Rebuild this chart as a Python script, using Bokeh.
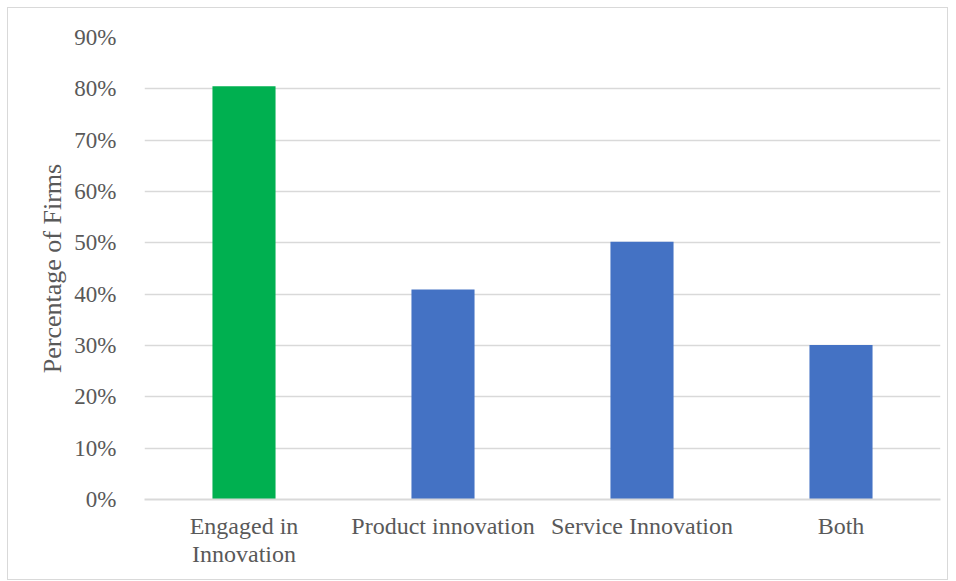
from bokeh.plotting import figure
from bokeh.models import NumeralTickFormatter, FactorRange, ColumnDataSource
from bokeh.embed import file_html
from bokeh.resources import INLINE

categories = ["Engaged in\nInnovation", "Product innovation", "Service Innovation", "Both"]
values = [0.805, 0.409, 0.502, 0.301]
colors = ["#00B050", "#4472C4", "#4472C4", "#4472C4"]
y_ticks = [0.0, 0.1, 0.2, 0.3, 0.4, 0.5, 0.6, 0.7, 0.8, 0.9]

FONT = "Liberation Serif"
TXT = "#595959"

p = figure(width=941, height=573, x_range=FactorRange(*categories), y_range=(0, 0.9),
           output_backend="svg", toolbar_location=None)
p.styles = {"border": "1px solid #d9d9d9", "box-sizing": "border-box",
            "margin-left": "7px", "margin-top": "7px"}
p.min_border_left = 136
p.min_border_right = 9
p.min_border_top = 29
p.min_border_bottom = 82
p.outline_line_color = None

src = ColumnDataSource(dict(cat=categories, val=values, color=colors))
p.vbar(x="cat", top="val", width=0.317, color="color", source=src, line_color=None)

p.yaxis.ticker = y_ticks
p.yaxis.formatter = NumeralTickFormatter(format="0%")
p.yaxis.axis_label = "Percentage of Firms"
p.yaxis.axis_label_text_font = FONT
p.yaxis.axis_label_text_font_style = "normal"
p.yaxis.axis_label_text_font_size = "26px"
p.yaxis.axis_label_text_color = TXT
p.yaxis.axis_label_standoff = 4
p.yaxis.axis_line_color = None
p.yaxis.major_tick_line_color = None
p.yaxis.minor_tick_line_color = None
p.yaxis.major_label_standoff = 22
p.yaxis.major_label_text_font_size = "23px"

p.xaxis.axis_line_color = "#d9d9d9"
p.xaxis.axis_line_width = 2
p.xaxis.major_tick_line_color = None
p.xaxis.minor_tick_line_color = None
p.xaxis.major_label_standoff = 7
p.xaxis.major_label_text_font_size = "24px"
p.xaxis.major_label_text_line_height = 1.1

for ax in (p.xaxis, p.yaxis):
    ax.major_label_text_font = FONT
    ax.major_label_text_color = TXT

p.xgrid.grid_line_color = None
p.ygrid.grid_line_color = "#d9d9d9"
p.ygrid.grid_line_width = 1.5

open("out.html", "w").write(file_html(p, INLINE))
